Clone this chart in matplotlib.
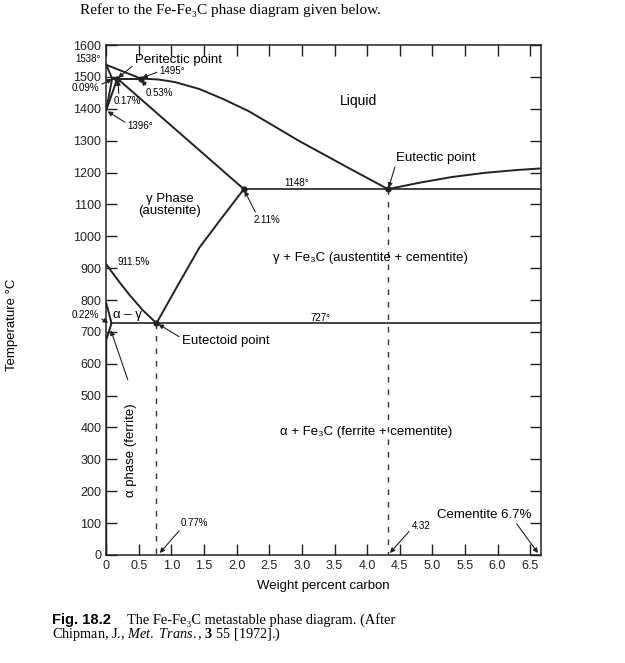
import numpy as np
import matplotlib
matplotlib.use("Agg")
import matplotlib.pyplot as plt

plt.rcParams['font.family'] = ['Liberation Sans', 'DejaVu Sans']
plt.rcParams['mathtext.fontset'] = 'custom'
plt.rcParams['mathtext.rm'] = 'Liberation Serif'
plt.rcParams['mathtext.it'] = 'Liberation Serif:italic'
plt.rcParams['mathtext.bf'] = 'Liberation Serif:bold'

# phase boundaries (wt% C, deg C)
liq_x = [0.0, 0.53, 0.8, 1.05, 1.43, 1.8, 2.19, 2.95, 3.71, 4.32]
liq_t = [1538, 1495, 1492, 1484, 1462, 1430, 1392, 1300, 1215, 1148]
liq2_x = [4.32, 4.8, 5.3, 5.8, 6.3, 6.67]
liq2_t = [1148, 1168, 1186, 1199, 1208, 1213]
delta_x = [0.0, 0.09, 0.0]
delta_t = [1538, 1495, 1396]
delta2_x = [0.17, 0.0]
delta2_t = [1495, 1396]
peri_x = [0.09, 0.53]
peri_t = [1495, 1495]
aust_x = [0.17, 2.11]
aust_t = [1495, 1148]
acm_x = [2.11, 1.78, 1.43, 1.08, 0.77]
acm_t = [1148, 1060, 965, 840, 727]
a3_x = [0.0, 0.18, 0.36, 0.56, 0.77]
a3_t = [912, 862, 815, 768, 727]
alpha_x = [0.0, 0.04, 0.08, 0.04, 0.0, 0.0]
alpha_t = [790, 760, 727, 700, 675, 0]
eut_x = [2.11, 6.67]
eut_t = [1148, 1148]
eutd_x = [0.08, 6.67]
eutd_t = [727, 727]
dash1_x = [0.77, 0.77]
dash1_t = [727, 0]
dash2_x = [4.32, 4.32]
dash2_t = [1148, 0]

xticks = np.arange(0, 6.51, 0.5)
xlabels = ['0'] + ['%.1f' % v for v in xticks[1:]]
yticks = np.arange(0, 1601, 100)

fig = plt.figure(figsize=(6.25, 6.63), dpi=100)
fig.patch.set_facecolor('white')
ax = fig.add_axes([0.170, 0.163, 0.696, 0.769])

lw = 1.4
for xs, ts in [(liq_x, liq_t), (liq2_x, liq2_t), (delta_x, delta_t), (delta2_x, delta2_t),
               (peri_x, peri_t), (aust_x, aust_t), (acm_x, acm_t), (a3_x, a3_t),
               (alpha_x, alpha_t)]:
    ax.plot(xs, ts, color='#222222', lw=lw, solid_joinstyle='round')
ax.plot(eut_x, eut_t, color='#222222', lw=1.2)
ax.plot(eutd_x, eutd_t, color='#222222', lw=1.2)
ax.plot(dash1_x, dash1_t, color='#333333', lw=1.0, ls=(0, (4, 5)))
ax.plot(dash2_x, dash2_t, color='#333333', lw=1.0, ls=(0, (4, 5)))
ax.plot([0.17, 0.53, 2.11, 4.32, 0.77], [1495, 1495, 1148, 1148, 727], 'o',
        color='#222222', ms=3.5)

ax.set_xlim(0, 6.67)
ax.set_ylim(0, 1600)
ax.set_xticks(xticks)
ax.set_xticklabels(xlabels, fontsize=9)
ax.set_yticks(yticks)
ax.set_yticklabels([str(v) for v in yticks], fontsize=9)
ax.tick_params(direction='in', length=8, width=1, top=True, right=True, colors='#222222')
ax.set_xlabel('Weight percent carbon', fontsize=9.5, labelpad=6)
for s in ax.spines.values():
    s.set_linewidth(1.1)
    s.set_color('#222222')

arr = dict(arrowstyle='-|>', color='#222222', lw=0.8, mutation_scale=7, shrinkA=0, shrinkB=0)

ax.annotate('Peritectic point', xy=(0.18, 1497), xytext=(0.44, 1552), fontsize=9.5,
            ha='left', va='center', arrowprops=dict(arr, relpos=(0, 0.2)), annotation_clip=False)
ax.annotate('1495°', xy=(0.55, 1497), xytext=(0.82, 1518), fontsize=7, ha='left',
            va='center', arrowprops=dict(arr, relpos=(0, 0.5)))
ax.annotate('0.53%', xy=(0.54, 1490), xytext=(0.6, 1450), fontsize=7, ha='left',
            va='center', arrowprops=dict(arr, relpos=(0.1, 1)))
ax.annotate('0.17%', xy=(0.18, 1490), xytext=(0.11, 1424), fontsize=7, ha='left',
            va='center', arrowprops=dict(arr, relpos=(0.2, 1)))
ax.annotate('0.09%', xy=(0.09, 1493), xytext=(-0.11, 1464), fontsize=7, ha='right',
            va='center', arrowprops=dict(arr, relpos=(1, 0.8)), annotation_clip=False)
ax.annotate('1396°', xy=(0.02, 1392), xytext=(0.33, 1346), fontsize=7, ha='left',
            va='center', arrowprops=dict(arr, relpos=(0, 0.7)))
ax.text(-0.08, 1556, '1538°', fontsize=7, ha='right', va='center')
ax.text(3.87, 1426, 'Liquid', fontsize=10, ha='center', va='center')
ax.annotate('Eutectic point', xy=(4.33, 1152), xytext=(4.45, 1245), fontsize=9.5,
            ha='left', va='center', arrowprops=dict(arr, relpos=(0, 0.2)))
ax.text(2.92, 1168, '1148°', fontsize=7, ha='center', va='center')
ax.annotate('2.11%', xy=(2.12, 1143), xytext=(2.47, 1052), fontsize=7, ha='center',
            va='center', arrowprops=dict(arr, relpos=(0.1, 1)))
ax.text(0.97, 1098, 'γ Phase\n(austenite)', fontsize=9.5, ha='center', va='center',
        linespacing=1.0)
ax.text(4.05, 932, 'γ + Fe₃C (austentite + cementite)', fontsize=9.5, ha='center', va='center')
ax.text(0.18, 920, '911.5%', fontsize=7, ha='left', va='center')
ax.annotate('0.22%', xy=(0.03, 728), xytext=(-0.11, 752), fontsize=7, ha='right',
            va='center', arrowprops=dict(arr, relpos=(1, 0.3)), annotation_clip=False)
ax.text(0.1, 752, 'α – γ', fontsize=9.5, ha='left', va='center')
ax.text(3.29, 745, '727°', fontsize=7, ha='center', va='center')
ax.annotate('Eutectoid point', xy=(0.8, 724), xytext=(1.16, 672), fontsize=9.5,
            ha='left', va='center', arrowprops=dict(arr, relpos=(0, 0.7)))
ax.text(0.38, 330, 'α phase (ferrite)', fontsize=9.5, ha='center', va='center', rotation=90)
ax.annotate('', xy=(0.07, 705), xytext=(0.33, 550), arrowprops=arr)
ax.text(3.99, 386, 'α + Fe₃C (ferrite + cementite)', fontsize=9.5, ha='center', va='center')
ax.annotate('Cementite 6.7%', xy=(6.62, 6), xytext=(5.8, 125), fontsize=9.5, ha='center',
            va='center', arrowprops=dict(arr, relpos=(0.82, 0)), annotation_clip=False)
ax.annotate('4.32', xy=(4.35, 6), xytext=(4.83, 90), fontsize=7, ha='center',
            va='center', arrowprops=dict(arr, relpos=(0, 0.3)))
ax.annotate('0.77%', xy=(0.82, 6), xytext=(1.35, 100), fontsize=7, ha='center',
            va='center', arrowprops=dict(arr, relpos=(0.1, 0.2)))

fig.text(0.019, 0.51, 'Temperature °C', rotation=90, fontsize=9.5, ha='center', va='center')

fig.text(0.128, 0.984, 'Refer to the Fe-Fe₃C phase diagram given below.', fontsize=11,
         family=['Liberation Serif', 'DejaVu Serif'], ha='left', va='center')

fig.text(0.084, 0.059, 'Fig. 18.2', fontsize=10.6, weight='bold', ha='left', va='baseline')
fig.text(0.203, 0.059, 'The Fe-Fe₃C metastable phase diagram. (After', fontsize=10.4,
         family=['Liberation Serif', 'DejaVu Serif'], ha='left', va='baseline')
fig.text(0.083, 0.038, r'Chipman, J., $\mathit{Met.\ Trans.}$, $\mathbf{3}$ 55 [1972].)',
         fontsize=10.3, family='Liberation Serif', ha='left', va='baseline')

fig.savefig('out.png', dpi=100, facecolor='white')
